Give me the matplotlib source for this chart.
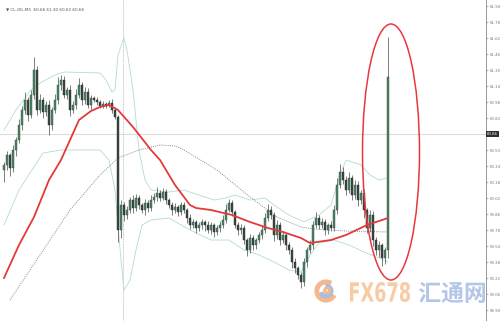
import numpy as np
import matplotlib.pyplot as plt
from matplotlib.patches import Ellipse, Wedge, PathPatch
from matplotlib.textpath import TextPath
from matplotlib.font_manager import FontProperties
import matplotlib.transforms as mtransforms

# --- candle data (M5 closes, first open, wick sizes in cents) ---
first_open = 60.30
close = [60.35, 60.45, 60.32, 60.50, 60.60, 60.75, 60.90, 61.00, 60.85, 61.05,
         61.30, 60.90, 61.00, 60.88, 60.95, 60.75, 60.90, 61.00, 61.15, 61.20,
         61.05, 61.10, 60.90, 60.95, 61.05, 61.15, 61.00, 61.08, 60.95, 61.02,
         61.00, 60.98, 60.94, 60.96, 60.95, 60.97, 60.90, 60.83, 59.70, 59.95,
         59.85, 59.90, 60.00, 59.92, 60.02, 59.95, 59.90, 59.97, 59.92, 60.00,
         60.03, 60.07, 60.02, 60.08, 60.00, 59.95, 59.90, 59.93, 59.88, 59.95,
         59.90, 59.82, 59.75, 59.78, 59.72, 59.75, 59.78, 59.75, 59.70, 59.75,
         59.68, 59.72, 59.75, 59.80, 59.90, 59.97, 59.88, 59.75, 59.70, 59.72,
         59.60, 59.50, 59.62, 59.55, 59.60, 59.65, 59.70, 59.82, 59.90, 59.85,
         59.65, 59.75, 59.60, 59.65, 59.55, 59.50, 59.38, 59.32, 59.25, 59.18,
         59.38, 59.50, 59.55, 59.75, 59.82, 59.75, 59.78, 59.70, 59.75, 59.72,
         59.90, 60.15, 60.28, 60.20, 60.10, 60.22, 60.05, 60.15, 60.00, 60.07,
         59.90, 59.72, 59.85, 59.60, 59.50, 59.55, 59.42, 59.50, 61.23]
wick_up = [3, 4, 2, 5, 3, 6, 4, 8, 3, 5,
           13, 4, 6, 3, 4, 5, 3, 6, 8, 5,
           4, 3, 5, 4, 6, 7, 3, 5, 4, 3,
           2, 3, 2, 3, 2, 3, 4, 3, 2, 5,
           3, 4, 3, 5, 4, 3, 2, 4, 3, 5,
           4, 6, 3, 4, 3, 2, 3, 4, 2, 3,
           3, 2, 4, 3, 2, 3, 3, 2, 4, 3,
           2, 3, 4, 5, 6, 4, 3, 2, 3, 4,
           3, 2, 4, 3, 2, 3, 4, 5, 6, 4,
           3, 5, 3, 4, 2, 3, 3, 4, 2, 3,
           4, 3, 5, 4, 6, 3, 4, 3, 2, 4,
           5, 7, 8, 5, 4, 6, 3, 5, 4, 3,
           4, 2, 5, 4, 3, 4, 2, 3, 40]
wick_dn = [12, 5, 8, 4, 6, 3, 5, 4, 6, 3,
           4, 5, 3, 6, 4, 10, 5, 3, 4, 5,
           3, 4, 6, 3, 4, 3, 5, 4, 3, 4,
           2, 3, 2, 2, 3, 2, 3, 2, 12, 8,
           6, 4, 3, 5, 3, 4, 3, 5, 4, 3,
           3, 4, 3, 2, 4, 3, 5, 3, 4, 3,
           3, 5, 4, 3, 5, 3, 4, 6, 3, 4,
           5, 3, 4, 3, 3, 2, 4, 3, 5, 4,
           4, 6, 3, 5, 4, 3, 4, 3, 3, 4,
           6, 4, 5, 3, 5, 4, 6, 5, 4, 6,
           4, 5, 3, 4, 3, 4, 3, 5, 4, 3,
           3, 4, 3, 4, 5, 3, 5, 4, 6, 4,
           8, 5, 4, 6, 5, 7, 8, 6, 8]

# --- indicators (bar index, price) ---
ma_red_idx = [0, 5, 10, 15, 19, 22, 25, 29, 32, 35, 38, 43, 49, 52, 57, 62, 64,
              69, 76, 82, 88, 93, 99, 102, 109, 114, 121, 128]
ma_red = [59.22, 59.55, 59.83, 60.20, 60.40, 60.60, 60.80, 60.89, 60.93, 60.95,
          60.90, 60.73, 60.50, 60.40, 60.15, 59.95, 59.92, 59.90, 59.85, 59.78,
          59.72, 59.68, 59.62, 59.57, 59.60, 59.65, 59.75, 59.82]

ma_gray_idx = [2, 12, 22, 32, 38, 45, 52, 57, 60, 71, 82, 91, 99, 103, 114, 128]
ma_gray = [59.00, 59.45, 59.90, 60.25, 60.42, 60.50, 60.55, 60.54, 60.50, 60.30,
           60.03, 59.83, 59.73, 59.71, 59.69, 59.68]

bb_up_idx = [0, 4, 9, 12, 17, 20, 32, 34, 36, 37, 38, 40, 41, 43, 45, 47, 49, 55,
             60, 65, 70, 74, 77, 82, 87, 90, 95, 100, 105, 109, 112, 114, 119,
             122, 125, 128]
bb_up = [60.70, 60.90, 61.10, 61.17, 61.25, 61.28, 61.27, 61.20, 61.08, 61.10,
         61.45, 61.62, 61.50, 61.10, 60.50, 60.20, 60.10, 60.08, 60.10, 60.05,
         60.00, 60.02, 60.05, 60.00, 60.02, 59.95, 59.85, 59.78, 59.85, 59.95,
         60.25, 60.40, 60.35, 60.25, 60.20, 60.22]

bb_lo_idx = [0, 5, 13, 19, 32, 35, 37, 39, 40, 42, 44, 46, 49, 55, 62, 69, 75,
             80, 85, 90, 95, 99, 102, 105, 110, 115, 120, 125, 128]
bb_lo = [59.75, 60.10, 60.47, 60.50, 60.50, 60.40, 60.10, 59.40, 59.10, 59.20,
         59.50, 59.75, 59.80, 59.82, 59.70, 59.60, 59.60, 59.50, 59.45, 59.38,
         59.30, 59.28, 59.45, 59.57, 59.60, 59.55, 59.48, 59.42, 59.38]

price_ticks = [61.94, 61.78, 61.62, 61.46, 61.30, 61.14, 60.98, 60.82, 60.66,
               60.50, 60.34, 60.18, 60.02, 59.86, 59.70, 59.54, 59.38, 59.22,
               59.06, 58.90]
last_price = 60.66
separator_idx = 39.7
header = "\u25bc CL-OIL,M5  60.66 61.30 60.62 60.66"

W, H = 500, 321


def text_box(fig, s, x0, y0, w, h, color, prop):
    # draw text squeezed into a pixel box (x0, y0 = left/bottom, from bottom)
    tp = TextPath((0, 0), s, size=1, prop=prop)
    ext = tp.get_extents()
    tr = (mtransforms.Affine2D()
          .translate(-ext.x0, -ext.y0)
          .scale(w / ext.width / W, h / ext.height / H)
          .translate(x0 / W, y0 / H) + fig.transFigure)
    fig.patches.append(PathPatch(tp, transform=tr, fc=color, ec='none',
                                 figure=fig))


# --- figure ---
fig = plt.figure(figsize=(W / 100, H / 100), dpi=100)
ax = fig.add_axes([0, 0, 486 / W, 1])

opens = [first_open] + close[:-1]
o = np.array(opens)
c = np.array(close)
hi = np.maximum(o, c) + np.array(wick_up) / 100
lo = np.minimum(o, c) - np.array(wick_dn) / 100
x = np.arange(len(c))
up = c >= o

ax.axhline(last_price, color='#dcdcdc', lw=0.8, zorder=0)
ax.axvline(separator_idx, color='#b0b0b0', lw=0.6, ls=(0, (1, 1)), zorder=0)

ax.plot(bb_up_idx, bb_up, color='#b4dccd', lw=0.6, zorder=1)
ax.plot(bb_lo_idx, bb_lo, color='#b4dccd', lw=0.6, zorder=1)
ax.plot(ma_gray_idx, ma_gray, color='#8c8c8c', lw=0.7, ls=(0, (1, 1.2)), zorder=1)

ax.vlines(x, lo, hi, color='#4a4a4a', lw=0.5, zorder=2)
body = np.maximum(np.abs(c - o), 0.008)
ax.bar(x[up], body[up], bottom=np.minimum(o, c)[up], width=0.7,
       color='#4c8566', edgecolor='#2e4d3d', lw=0.3, zorder=3)
ax.bar(x[~up], body[~up], bottom=np.minimum(o, c)[~up], width=0.7,
       color='#3a4a42', edgecolor='#2a2a2a', lw=0.3, zorder=3)

ax.plot(ma_red_idx, ma_red, color='#e23a3a', lw=1.3, zorder=4)

ax.add_patch(Ellipse((129, 60.48), width=19, height=2.56, fill=False,
                     ec='#e8383f', lw=1.1, zorder=5))

ax.set_xlim(-4 / 3, 482 / 3)
ax.set_ylim(58.79, 62.00)
ax.set_xticks([])
ax.yaxis.tick_right()
ax.set_yticks(price_ticks)
ax.set_yticklabels(["" if v == last_price else f"{v:.2f}" for v in price_ticks])
ax.tick_params(axis='y', labelsize=2.8, colors='#777777', length=1.5,
               width=0.4, pad=1)
for s in ['left', 'top', 'bottom']:
    ax.spines[s].set_visible(False)
ax.spines['right'].set_color('#8a8a8a')
ax.spines['right'].set_linewidth(0.6)

trans = mtransforms.blended_transform_factory(ax.transAxes, ax.transData)
ax.text(1.002, last_price, f"{last_price:.2f}", transform=trans, fontsize=2.8,
        color='white', va='center', ha='left',
        bbox=dict(boxstyle='square,pad=0.25', fc='#2e2e2e', ec='none'))

fig.text(0.012, 0.978, header, fontsize=3, color='#555555', va='top')

# watermark
text_box(fig, 'FX678', 350, H - 302, 60, 20, '#f8cba4',
         FontProperties(family='DejaVu Sans', weight='bold'))
text_box(fig, '汇通网', 419, H - 303, 66, 21, '#b5c5e8',
         FontProperties(family='Noto Sans CJK SC', weight='bold'))
lax = fig.add_axes([314 / W, (H - 303) / H, 24 / W, 24 / H])
lax.set_aspect('equal')
lax.add_patch(Wedge((0, 0), 1.0, 60, 330, width=0.32, color='#f6b78c'))
lax.add_patch(Wedge((0, 0), 0.62, 200, 90, width=0.28, color='#a8bde4'))
lax.add_patch(Wedge((0.1, 0.05), 0.3, 0, 360, width=0.15, color='#f6b78c'))
lax.set_xlim(-1.1, 1.1)
lax.set_ylim(-1.1, 1.1)
lax.axis('off')

fig.savefig('out.png', dpi=100)
